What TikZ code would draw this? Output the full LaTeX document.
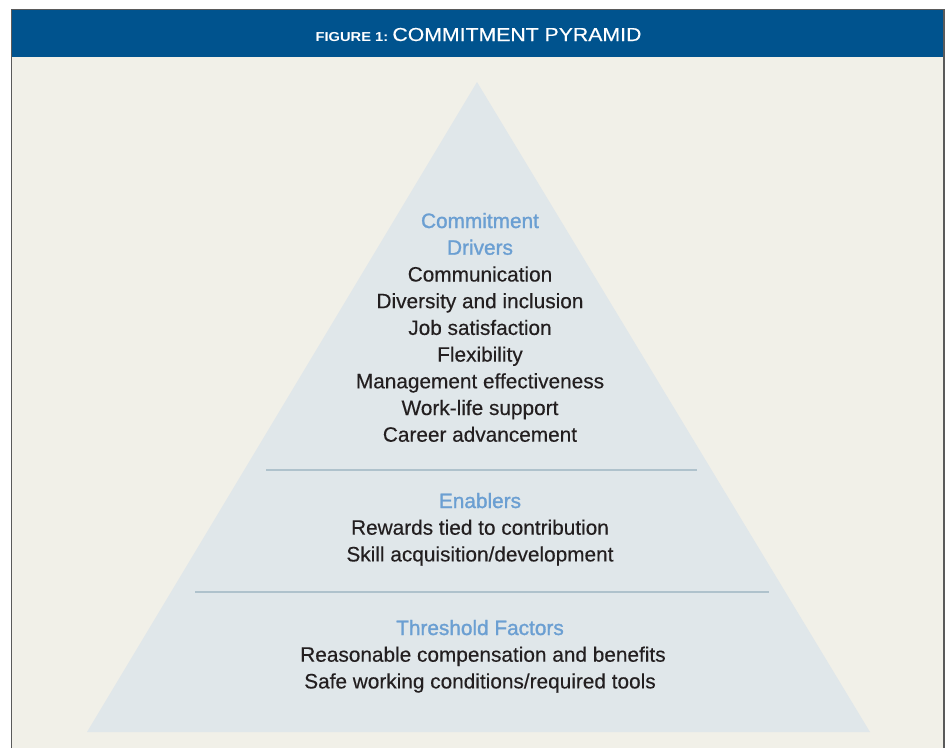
\documentclass[tikz,border=0pt]{standalone}
\usepackage{fontspec}
\usepackage{graphicx}
\setmainfont{Liberation Sans}
\newfontfamily\semifont[FakeBold=1.3]{Liberation Sans}
\newfontfamily\itemfont[FakeBold=0.3]{Liberation Sans}
\definecolor{hblue}{HTML}{00538E}
\definecolor{beige}{HTML}{F1F0E8}
\definecolor{pyr}{HTML}{E0E7EA}
\definecolor{sepc}{HTML}{AFC2CC}
\definecolor{headc}{HTML}{6B9FD2}
\definecolor{txtc}{HTML}{231F20}
\definecolor{framec}{HTML}{5A5A5A}
\tikzset{
  itemtxt/.style={anchor=base, inner sep=0pt, text=txtc, font=\fontsize{20.8}{24}\itemfont},
  headtxt/.style={anchor=base, inner sep=0pt, text=headc, font=\fontsize{20.8}{24}\semifont},
  sepline/.style={draw=sepc, line width=1.5pt},
  framel/.style={draw=framec, line width=1.2pt}
}
\begin{document}
\begin{tikzpicture}[x=1pt,y=-1pt]
\useasboundingbox (0,0) rectangle (948,748);
\fill[white] (0,0) rectangle (948,748);
\fill[beige] (12,10) rectangle (944,748);
\fill[hblue] (12,10) rectangle (944,57);
\draw[framel] (11.5,748) -- (11.5,9.5) -- (944,9.5) -- (944,748);
\node[anchor=base, inner sep=0pt, text=white] (title) at (478.5,41)
  {\scalebox{1.13}[1]{{\fontsize{13}{13}\selectfont\bfseries FIGURE 1:} {\fontsize{18.8}{18.8}\itemfont COMMITMENT PYRAMID}}};
\fill[pyr] (477,82) -- (870,732) -- (87,732) -- cycle;
\coordinate (s1a) at (266,470); \coordinate (s1b) at (697,470);
\coordinate (s2a) at (195,592); \coordinate (s2b) at (769,592);
\draw[sepline] (s1a) -- (s1b);
\draw[sepline] (s2a) -- (s2b);
\node[headtxt] (h1a) at (480,228) {Commitment};
\node[headtxt] (h1b) at (480,254.7) {Drivers};
\node[itemtxt] (d1) at (480,281.5) {Communication};
\node[itemtxt] (d2) at (480,308.2) {Diversity and inclusion};
\node[itemtxt] (d3) at (480,334.9) {Job satisfaction};
\node[itemtxt] (d4) at (480,361.6) {Flexibility};
\node[itemtxt] (d5) at (480,388.3) {Management effectiveness};
\node[itemtxt] (d6) at (480,415) {Work-life support};
\node[itemtxt] (d7) at (480,441.7) {Career advancement};
\node[headtxt] (h2) at (480,508) {Enablers};
\node[itemtxt] (e1) at (480,534.7) {Rewards tied to contribution};
\node[itemtxt] (e2) at (480,561.4) {Skill acquisition/development};
\node[headtxt] (h3) at (480,635) {Threshold Factors};
\node[itemtxt] (t1) at (483,661.7) {Reasonable compensation and benefits};
\node[itemtxt] (t2) at (480,688.4) {Safe working conditions/required tools};
\end{tikzpicture}
\end{document}
